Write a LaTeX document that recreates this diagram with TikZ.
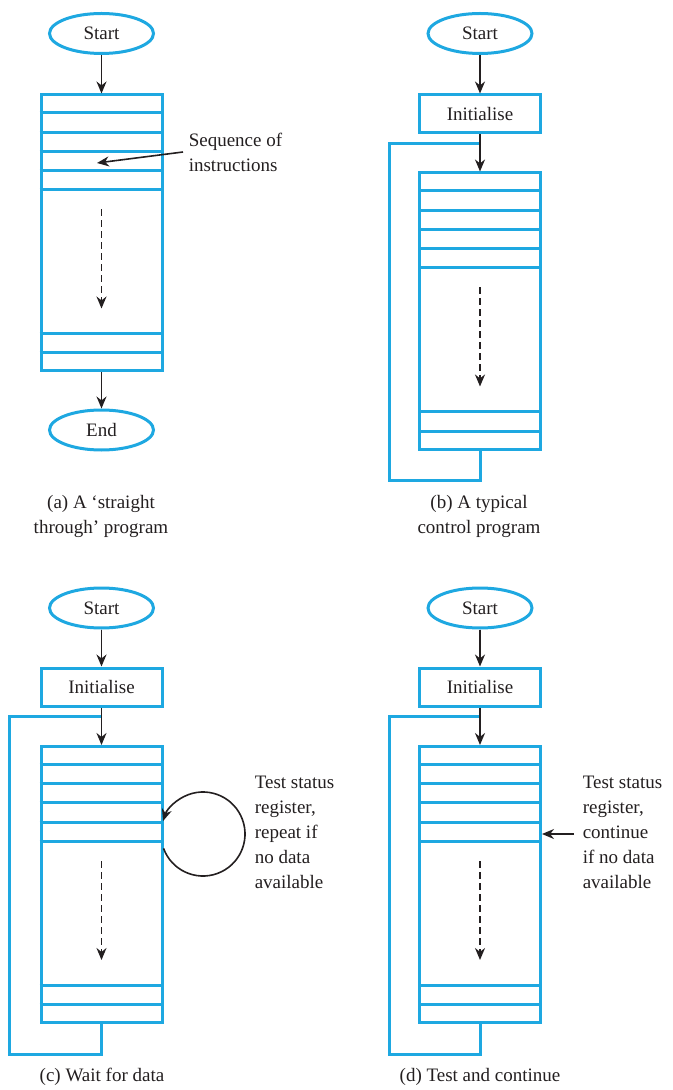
\documentclass[tikz,border=0pt]{standalone}
\usepackage{fontspec}
\setmainfont{Liberation Serif}
\usepackage{tikz}
\usetikzlibrary{shapes.geometric,arrows.meta}
\definecolor{flowblue}{RGB}{30,168,225}
\definecolor{ink}{RGB}{35,31,32}

\begin{document}
\begin{tikzpicture}[x=0.5pt, y=-0.5pt, thick, >={Stealth[length=6pt,width=5pt]},
    font=\fontsize{9.5}{12.5}\selectfont, text=ink,
    term/.style = {draw=flowblue, line width=1.5pt, ellipse, minimum width=52pt, minimum height=20pt, inner sep=0pt},
    initbox/.style = {draw=flowblue, line width=1.5pt, rectangle, minimum width=60.5pt, minimum height=19pt},
    progbox/.style = {draw=flowblue, line width=1.5pt, rectangle, minimum width=60.5pt, minimum height=138pt},
    row/.style = {draw=flowblue, line width=1.5pt},
    flow/.style = {->, draw=ink, line width=0.8pt},
    dashflow/.style = {flow, dash pattern=on 3.5pt off 2pt},
    note/.style = {align=left, inner sep=0pt}]

  \useasboundingbox (0,0) rectangle (673,1090);

  % (a) straight through
  \node[term] (sa) at (101.5,33.5) {Start};
  \node[progbox] (pa) at (101.5,233) {};
  \node[term] (ea) at (101.5,430) {End};
  \foreach \k in {1,...,5}
    \draw[row] ([yshift=-\k*9.65pt]pa.north west) -- ([yshift=-\k*9.65pt]pa.north east);
  \foreach \k in {1,2}
    \draw[row] ([yshift=\k*9.75pt]pa.south west) -- ([yshift=\k*9.75pt]pa.south east);
  \draw[flow] (sa.south) -- (pa.north);
  \draw[flow] (pa.south) -- (ea.north);
  \coordinate (da1) at ([yshift=-58pt]pa.north);
  \coordinate (da2) at ([yshift=-107.5pt]pa.north);
  \draw[dashflow] (da1) -- (da2);
  \node[note, anchor=west] (seq) at (188,152) {Sequence of\\instructions};
  \coordinate (seqtip) at (97,163);
  \draw[flow] ([xshift=-2.5pt]seq.west) -- (seqtip);
  \node[align=center] (capa) at (101,516) {(a) A `straight\\through' program};

  % (b) control program
  \node[term] (sb) at (480,33.5) {Start};
  \node[initbox] (ib) at (480,114) {Initialise};
  \node[progbox] (pb) at (480,311) {};
  \foreach \k in {1,...,5}
    \draw[row] ([yshift=-\k*9.65pt]pb.north west) -- ([yshift=-\k*9.65pt]pb.north east);
  \foreach \k in {1,2}
    \draw[row] ([yshift=\k*9.75pt]pb.south west) -- ([yshift=\k*9.75pt]pb.south east);
  \coordinate (jb) at ([yshift=-4.5pt]ib.south);
  \draw[row] (pb.south) -- ++(0,30) -- ++(-91,0) |- (jb);
  \draw[flow] (sb.south) -- (ib.north);
  \draw[flow] (ib.south) -- (pb.north);
  \coordinate (db1) at ([yshift=-58pt]pb.north);
  \coordinate (db2) at ([yshift=-107.5pt]pb.north);
  \draw[dashflow] (db1) -- (db2);
  \node[align=center] (capb) at (479,516) {(b) A typical\\control program};

  % (c) wait for data
  \node[term] (sc) at (101.5,608) {Start};
  \node[initbox] (ic) at (101.5,687) {Initialise};
  \node[progbox] (pc) at (101.5,884.5) {};
  \foreach \k in {1,...,5}
    \draw[row] ([yshift=-\k*9.65pt]pc.north west) -- ([yshift=-\k*9.65pt]pc.north east);
  \foreach \k in {1,2}
    \draw[row] ([yshift=\k*9.75pt]pc.south west) -- ([yshift=\k*9.75pt]pc.south east);
  \coordinate (jc) at ([yshift=-4.5pt]ic.south);
  \draw[row] (pc.south) -- ++(0,30) -- ++(-92,0) |- (jc);
  \draw[flow] (sc.south) -- (ic.north);
  \draw[flow] (ic.south) -- (pc.north);
  \coordinate (dc1) at ([yshift=-58pt]pc.north);
  \coordinate (dc2) at ([yshift=-107.5pt]pc.north);
  \draw[dashflow] (dc1) -- (dc2);
  \coordinate (cc) at (203,834);
  \draw[flow] ([shift={(200:21pt)}]cc) arc[start angle=200, end angle=522, radius=21pt];
  \node[note, anchor=north west] (nc) at (254,775) {Test status\\register,\\repeat if\\no data\\available};
  \node (capc) at (102,1077) {(c) Wait for data};

  % (d) test and continue
  \node[term] (sd) at (480,608) {Start};
  \node[initbox] (id) at (480,687) {Initialise};
  \node[progbox] (pd) at (480,884.5) {};
  \foreach \k in {1,...,5}
    \draw[row] ([yshift=-\k*9.65pt]pd.north west) -- ([yshift=-\k*9.65pt]pd.north east);
  \foreach \k in {1,2}
    \draw[row] ([yshift=\k*9.75pt]pd.south west) -- ([yshift=\k*9.75pt]pd.south east);
  \coordinate (jd) at ([yshift=-4.5pt]id.south);
  \draw[row] (pd.south) -- ++(0,30) -- ++(-91,0) |- (jd);
  \draw[flow] (sd.south) -- (id.north);
  \draw[flow] (id.south) -- (pd.north);
  \coordinate (dd1) at ([yshift=-58pt]pd.north);
  \coordinate (dd2) at ([yshift=-107.5pt]pd.north);
  \draw[dashflow] (dd1) -- (dd2);
  \node[note, anchor=north west] (nd) at (582,775) {Test status\\register,\\continue\\if no data\\available};
  \coordinate (dt) at (574,834);
  \draw[flow] (dt) -- (pd.east |- dt);
  \node (capd) at (480,1077) {(d) Test and continue};

\end{tikzpicture}
\end{document}
